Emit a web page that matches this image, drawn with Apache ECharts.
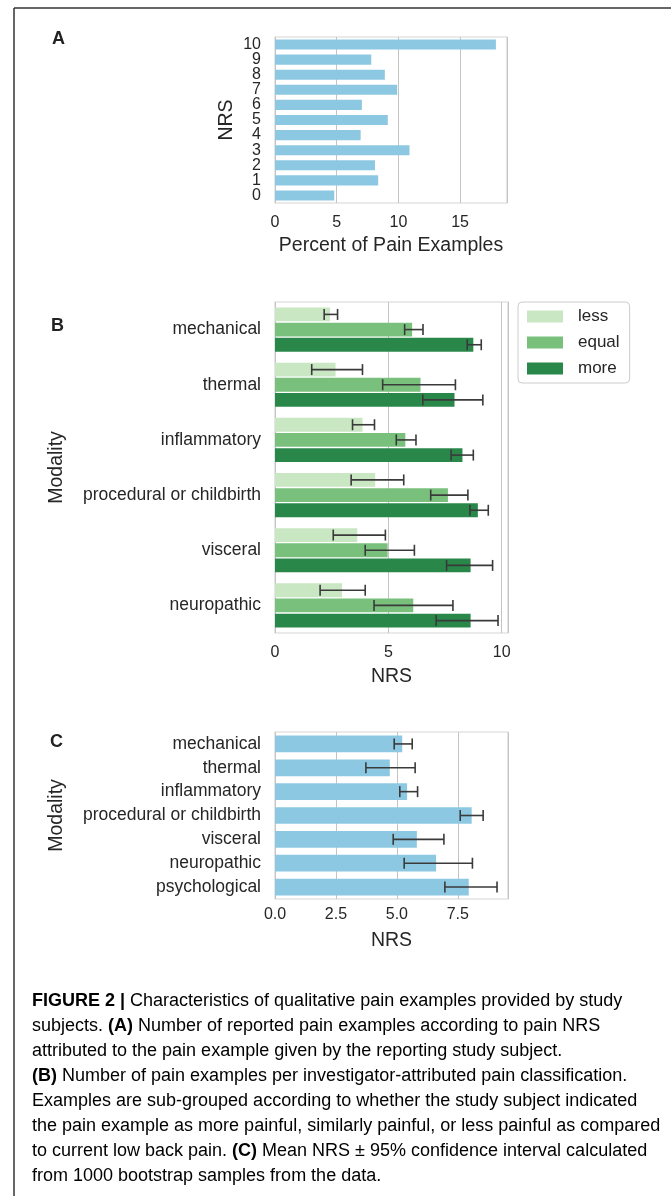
<!DOCTYPE html>
<html>
<head>
<meta charset="utf-8">
<script src="https://cdn.jsdelivr.net/npm/echarts@6/dist/echarts.min.js"></script>
<style>
html,body{margin:0;padding:0;background:#fff;}
#chart{width:671px;height:1196px;}
</style>
</head>
<body>
<div id="chart"></div>
<script>
// ---------- Data ----------
const nrsCategories = ['0','1','2','3','4','5','6','7','8','9','10'];
const nrsPercent = [4.8, 8.36, 8.1, 10.9, 6.94, 9.14, 7.04, 9.9, 8.9, 7.8, 17.9];

const modalitiesB = ['mechanical','thermal','inflammatory','procedural or childbirth','visceral','neuropathic'];
const groupNames = ['less','equal','more'];
const lessMean  = [2.43, 2.67, 3.86, 4.42, 3.63, 2.96];
const lessLo    = [2.17, 1.62, 3.42, 3.36, 2.57, 1.99];
const lessHi    = [2.76, 3.86, 4.39, 5.68, 4.87, 3.98];
const equalMean = [6.05, 6.42, 5.75, 7.63, 4.97, 6.10];
const equalLo   = [5.72, 4.75, 5.35, 6.87, 3.98, 4.37];
const equalHi   = [6.53, 7.96, 6.22, 8.51, 6.15, 7.85];
const moreMean  = [8.75, 7.92, 8.27, 8.95, 8.63, 8.63];
const moreLo    = [8.48, 6.52, 7.77, 8.60, 7.57, 7.11];
const moreHi    = [9.10, 9.17, 8.75, 9.41, 9.60, 9.84];

const modalitiesC = ['mechanical','thermal','inflammatory','procedural or childbirth','visceral','neuropathic','psychological'];
const cMean = [5.22, 4.71, 5.42, 8.07, 5.82, 6.61, 7.95];
const cLo   = [4.89, 3.73, 5.12, 7.60, 4.85, 5.30, 6.97];
const cHi   = [5.63, 5.75, 5.85, 8.54, 6.93, 8.10, 9.11];

const captionLines = [
  [['b','FIGURE 2 | '],['n','Characteristics of qualitative pain examples provided by study']],
  [['n','subjects. '],['b','(A)'],['n',' Number of reported pain examples according to pain NRS']],
  [['n','attributed to the pain example given by the reporting study subject.']],
  [['b','(B)'],['n',' Number of pain examples per investigator-attributed pain classification.']],
  [['n','Examples are sub-grouped according to whether the study subject indicated']],
  [['n','the pain example as more painful, similarly painful, or less painful as compared']],
  [['n','to current low back pain. '],['b','(C)'],['n',' Mean NRS \u00b1 95% confidence interval calculated']],
  [['n','from 1000 bootstrap samples from the data.']]
];

// ---------- Styles ----------
const FONT = 'Liberation Sans, Arial, sans-serif';
const TXT = '#262626';
const BLUE = '#8cc8e2';
const GREENS = ['#c9e7c2', '#78c07c', '#29874a'];
const GRIDLINE = '#c4c4c4';
const FRAME = '#d6d6d6';
const ERR = '#3a3a3a';

const chart = echarts.init(document.getElementById('chart'), null, {renderer: 'canvas'});

function valueAxis(gridIndex, max, interval, fmt, name, labelMargin, nameGap) {
  return {
    type: 'value', gridIndex, min: 0, max, interval,
    name, nameLocation: 'middle', nameGap,
    nameTextStyle: {fontFamily: FONT, fontSize: 19.5, color: TXT},
    axisLine: {show: false}, axisTick: {show: false},
    axisLabel: {fontFamily: FONT, fontSize: 16, color: TXT, margin: labelMargin, formatter: fmt},
    splitLine: {show: true, lineStyle: {color: GRIDLINE, width: 1}}
  };
}
function catAxis(gridIndex, data, inverse, name, nameGap, fontSize) {
  return {
    type: 'category', gridIndex, data, inverse,
    name, nameLocation: 'middle', nameGap, nameRotate: 90,
    nameTextStyle: {fontFamily: FONT, fontSize: 19.5, color: TXT},
    axisLine: {show: false}, axisTick: {show: false},
    axisLabel: {fontFamily: FONT, fontSize, color: TXT, margin: 14, interval: 0},
    splitLine: {show: false}
  };
}

// error bar renderer: data item [catIndex, slot, lo, hi]
function makeErr(nSlots, catGap, barGap) {
  return function (params, api) {
    const cat = api.value(0), k = api.value(1), lo = api.value(2), hi = api.value(3);
    const band = api.size([0, 1])[1];
    const total = band * (1 - catGap);
    const w = total / (nSlots + (nSlots - 1) * barGap);
    const offset = -total / 2 + w / 2 + k * w * (1 + barGap);
    const p1 = api.coord([lo, cat]);
    const p2 = api.coord([hi, cat]);
    const y = p1[1] + offset;
    const h = 5.5;
    const style = {stroke: ERR, lineWidth: 1.6, fill: null};
    return {
      type: 'group',
      children: [
        {type: 'line', shape: {x1: p1[0], y1: y, x2: p2[0], y2: y}, style},
        {type: 'line', shape: {x1: p1[0], y1: y - h, x2: p1[0], y2: y + h}, style},
        {type: 'line', shape: {x1: p2[0], y1: y - h, x2: p2[0], y2: y + h}, style}
      ]
    };
  };
}

const errB = [];
const lows = [lessLo, equalLo, moreLo], highs = [lessHi, equalHi, moreHi];
const means = [lessMean, equalMean, moreMean];
for (let k = 0; k < 3; k++) {
  for (let i = 0; i < modalitiesB.length; i++) errB.push([i, k, lows[k][i], highs[k][i]]);
}
const errC = modalitiesC.map((m, i) => [i, 0, cLo[i], cHi[i]]);

// caption graphic
const captionGraphics = captionLines.map((segs, li) => {
  const text = segs.map(s => '{' + s[0] + '|' + s[1] + '}').join('');
  return {
    type: 'text', left: 32, top: 992 + li * 25,
    style: {
      text,
      rich: {
        n: {fontFamily: FONT, fontSize: 18, color: '#3a3a3a'},
        b: {fontFamily: FONT, fontSize: 18, fontWeight: 'bold', color: '#222'}
      }
    }
  };
});

const option = {
  animation: false,
  backgroundColor: '#fff',
  grid: [
    {left: 275, top: 37, width: 232, height: 166, show: true, borderColor: FRAME, borderWidth: 1.2, backgroundColor: 'transparent'},
    {left: 275, top: 302, width: 233, height: 331, show: true, borderColor: FRAME, borderWidth: 1.2, backgroundColor: 'transparent'},
    {left: 275, top: 732, width: 233, height: 167, show: true, borderColor: FRAME, borderWidth: 1.2, backgroundColor: 'transparent'}
  ],
  xAxis: [
    valueAxis(0, 18.8, 5, v => (Math.abs(v % 5) < 1e-9 ? String(v) : ''), 'Percent of Pain Examples', 12, 33),
    valueAxis(1, 10.28, 5, v => (Math.abs(v % 5) < 1e-9 ? String(v) : ''), 'NRS', 12, 34),
    valueAxis(2, 9.56, 2.5, v => (Math.abs(v % 2.5) < 1e-9 ? v.toFixed(1) : ''), 'NRS', 8, 32)
  ],
  yAxis: [
    catAxis(0, nrsCategories, false, 'NRS', 38, 16),
    catAxis(1, modalitiesB, true, 'Modality', 208, 17.5),
    catAxis(2, modalitiesC, true, 'Modality', 208, 17.5)
  ],
  legend: {
    data: groupNames,
    orient: 'vertical', left: 518, top: 302,
    padding: [6, 10, 6, 9],
    itemWidth: 36, itemHeight: 12, itemGap: 9,
    icon: 'rect',
    borderColor: '#cccccc', borderWidth: 1, borderRadius: 4,
    textStyle: {fontFamily: FONT, fontSize: 17, color: TXT, lineHeight: 17, padding: [0, 0, 0, 10]}
  },
  series: [
    {
      type: 'bar', xAxisIndex: 0, yAxisIndex: 0, data: nrsPercent,
      barCategoryGap: '33%', itemStyle: {color: BLUE}, silent: true
    },
    ...groupNames.map((g, k) => ({
      name: g, type: 'bar', xAxisIndex: 1, yAxisIndex: 1, data: means[k],
      barCategoryGap: '20%', barGap: '10%', itemStyle: {color: GREENS[k]}, silent: true
    })),
    {
      type: 'custom', xAxisIndex: 1, yAxisIndex: 1, data: errB, z: 10,
      renderItem: makeErr(3, 0.2, 0.1), silent: true
    },
    {
      type: 'bar', xAxisIndex: 2, yAxisIndex: 2, data: cMean,
      barCategoryGap: '30%', itemStyle: {color: BLUE}, silent: true
    },
    {
      type: 'custom', xAxisIndex: 2, yAxisIndex: 2, data: errC, z: 10,
      renderItem: makeErr(1, 0.3, 0), silent: true
    }
  ],
  graphic: [
    {type: 'line', shape: {x1: 14, y1: 8, x2: 671, y2: 8}, style: {stroke: '#333', lineWidth: 1.5}},
    {type: 'line', shape: {x1: 14, y1: 8, x2: 14, y2: 1196}, style: {stroke: '#333', lineWidth: 1.5}},
    {type: 'text', left: 52, top: 30, style: {text: 'A', fontFamily: FONT, fontSize: 18, fontWeight: 'bold', fill: '#222'}},
    {type: 'text', left: 51, top: 317, style: {text: 'B', fontFamily: FONT, fontSize: 18, fontWeight: 'bold', fill: '#222'}},
    {type: 'text', left: 50, top: 733, style: {text: 'C', fontFamily: FONT, fontSize: 18, fontWeight: 'bold', fill: '#222'}},
    ...captionGraphics
  ]
};
chart.setOption(option);
</script>
</body>
</html>
